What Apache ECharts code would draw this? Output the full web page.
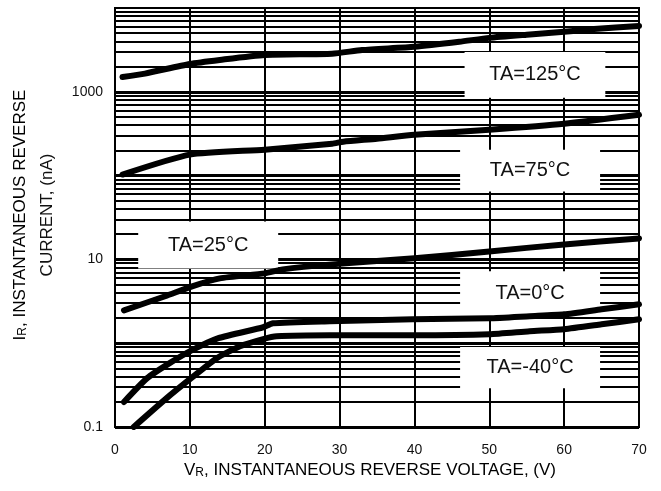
<!DOCTYPE html>
<html><head><meta charset="utf-8">
<script src="https://cdn.jsdelivr.net/npm/echarts@6/dist/echarts.min.js"></script>
<style>html,body{margin:0;padding:0;background:#fff}#c{width:661px;height:491px}</style>
</head><body><div id="c"></div>
<script>
// ---- data ----
const volt125 = [1, 4, 10, 14, 20, 29, 33, 40, 46, 50, 55, 60, 64, 70];
const cur125  = [1500, 1650, 2150, 2400, 2750, 2850, 3150, 3450, 3950, 4400, 4800, 5200, 5600, 6100];
const volt75  = [1, 10, 20, 29, 30.5, 35, 40, 50, 60, 70];
const cur75   = [103, 178, 204, 240, 254, 276, 308, 353, 416, 532];
const volt25  = [1.2, 6.7, 10.3, 14, 20, 22.4, 29, 40, 50, 60, 70];
const cur25   = [2.47, 3.63, 4.77, 5.94, 6.81, 7.6, 8.72, 10.3, 12.45, 15.1, 17.8];
const volt0   = [1.2, 4.3, 7.3, 10.3, 13.8, 19.8, 21.1, 28.7, 39.8, 50, 55.4, 60, 65, 70];
const cur0    = [0.199, 0.383, 0.578, 0.825, 1.147, 1.55, 1.73, 1.83, 1.93, 1.98, 2.10, 2.21, 2.54, 2.91];
const voltM40 = [2.5, 6.9, 10.3, 13.6, 16.7, 19.8, 21.6, 28.7, 39.8, 50, 55.4, 60, 65, 70];
const curM40  = [0.1, 0.221, 0.39, 0.663, 0.92, 1.12, 1.21, 1.245, 1.245, 1.28, 1.39, 1.47, 1.68, 1.93];
const curveLabels = ['TA=125°C', 'TA=75°C', 'TA=25°C', 'TA=0°C', 'TA=-40°C'];
const yLabelValues = [0.1, 10, 1000];
const gridDecades = [0.1, 1, 10, 100, 1000];
const gridMultipliers = [2, 3, 4, 5, 6, 7, 8, 9];

const FONT = 'Arial, "Liberation Sans", sans-serif';
const pairs = (xs, ys) => xs.map((x, i) => [x, ys[i]]);

const gridLineData = [];
gridDecades.forEach(d => {
  gridLineData.push({ yAxis: d, lineStyle: { width: 3 } });
  gridMultipliers.forEach(m => gridLineData.push({ yAxis: +(d * m).toPrecision(6), lineStyle: { width: 1.8 } }));
});

const boxes = [
  [46.7, 65.5, 850, 2990],
  [46.1, 64.8, 64.5, 204],
  [3.1, 21.8, 7.8, 28.3],
  [46.1, 64.8, 2.1, 7.2],
  [46.1, 64.8, 0.29, 0.9]
];
const boxData = boxes.map((b, i) => [
  { name: curveLabels[i], coord: [b[0], b[3]] },
  { coord: [b[1], b[2]] }
]);

const curves = [[volt125, cur125], [volt75, cur75], [volt25, cur25], [volt0, cur0], [voltM40, curM40]];

const option = {
  animation: false,
  backgroundColor: '#fff',
  textStyle: { fontFamily: FONT },
  grid: { left: 115, right: 22, top: 8, bottom: 64, show: true, borderColor: '#000', borderWidth: 2, backgroundColor: 'transparent' },
  xAxis: {
    type: 'value', min: 0, max: 70, interval: 10,
    axisLine: { show: false }, axisTick: { show: false },
    splitLine: { show: true, lineStyle: { color: '#000', width: 2 } },
    axisLabel: { color: '#111', fontSize: 14, margin: 16, fontFamily: FONT }
  },
  yAxis: {
    type: 'log', logBase: 10, min: 0.1, max: 10000,
    axisLine: { show: false }, axisTick: { show: false },
    splitLine: { show: false },
    axisLabel: {
      color: '#111', fontSize: 14, margin: 12, fontFamily: FONT,
      formatter: v => {
        const lg = Math.round(Math.log10(v));
        const m = yLabelValues.find(y => Math.abs(Math.log10(y) - lg) < 1e-6);
        return m !== undefined ? String(m) : '';
      }
    }
  },
  graphic: [
    { type: 'text', x: 370, y: 470, style: { text: '{a|V}{b|R}{a|, INSTANTANEOUS REVERSE VOLTAGE, (V)}', align: 'center', verticalAlign: 'middle',
      rich: { a: { fontSize: 17, fontFamily: FONT, color: '#111' }, b: { fontSize: 12, fontFamily: FONT, verticalAlign: 'bottom', color: '#111', padding: [6, 0, 0, 0] } } } },
    { type: 'text', x: 20, y: 215, rotation: Math.PI / 2, style: { text: '{a|I}{b|R}{a|, INSTANTANEOUS REVERSE}', align: 'center', verticalAlign: 'middle',
      rich: { a: { fontSize: 17, fontFamily: FONT, color: '#111' }, b: { fontSize: 12, fontFamily: FONT, verticalAlign: 'bottom', color: '#111', padding: [6, 0, 0, 0] } } } },
    { type: 'text', x: 47, y: 215, rotation: Math.PI / 2, style: { text: 'CURRENT, (nA)', align: 'center', verticalAlign: 'middle', font: '17px ' + FONT, fill: '#111' } }
  ],
  series: [
    { type: 'line', data: [], z: 1, silent: true,
      markLine: { z: 1, silent: true, symbol: ['none', 'none'], label: { show: false }, lineStyle: { color: '#000', type: 'solid' }, data: gridLineData } },
    { type: 'line', data: [], z: 2, silent: true,
      markArea: { z: 3, silent: true, itemStyle: { color: '#fff' },
        label: { show: true, position: 'inside', color: '#111', fontSize: 20, fontFamily: FONT }, data: boxData } }
  ].concat(curves.map((c, i) => ({
    type: 'line', name: curveLabels[i], data: pairs(c[0], c[1]), z: 6, smooth: 0.2,
    symbol: 'none', lineStyle: { color: '#000', width: 6, cap: 'round', join: 'round' }
  })))
};
echarts.init(document.getElementById('c')).setOption(option);
</script></body></html>
